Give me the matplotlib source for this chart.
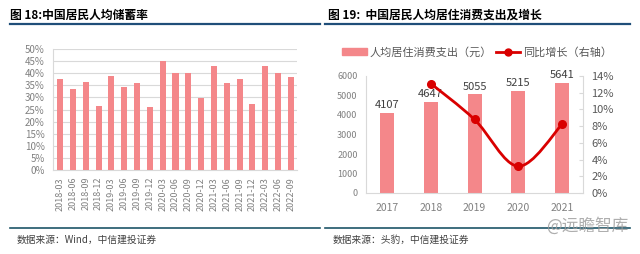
import matplotlib
matplotlib.use("Agg")
import matplotlib.pyplot as plt
import numpy as np
from matplotlib.path import Path
from matplotlib.patches import PathPatch
from matplotlib.lines import Line2D
from matplotlib.ticker import FuncFormatter

plt.rcParams['font.family'] = ['Noto Sans CJK SC', 'DejaVu Sans']

# left chart: savings rate by quarter
quarters = ['2018-03', '2018-06', '2018-09', '2018-12', '2019-03', '2019-06', '2019-09',
            '2019-12', '2020-03', '2020-06', '2020-09', '2020-12', '2021-03', '2021-06',
            '2021-09', '2021-12', '2022-03', '2022-06', '2022-09']
savings_rate = [37.6, 33.4, 36.5, 26.5, 38.7, 34.3, 35.9, 26.2, 44.9, 40.2,
                39.9, 29.7, 43.1, 35.9, 37.4, 27.3, 43.0, 39.9, 38.5]

# right chart: housing spending per capita and yoy growth
years = ['2017', '2018', '2019', '2020', '2021']
housing_spend = [4107, 4647, 5055, 5215, 5641]
growth_years = [1, 2, 3, 4]
growth_pct = [13.1, 8.8, 3.2, 8.2]

bar_c = '#F4878A'
line_c = '#D90000'
tick_c = '#808080'
navy = '#1F4E79'

fig = plt.figure(figsize=(6.4, 2.54), dpi=100)
W, H = 640.0, 254.0

def px_axes(x0, y0, x1, y1):
    return fig.add_axes([x0 / W, 1 - y1 / H, (x1 - x0) / W, (y1 - y0) / H])

# titles and rules
fig.text(10 / W, 1 - 15 / H, '图 18:中国居民人均储蓄率', fontsize=8.5, fontweight='bold',
         va='center', ha='left', color='black')
fig.text(328 / W, 1 - 15 / H, '图 19:  中国居民人均居住消费支出及增长', fontsize=8.5,
         fontweight='bold', va='center', ha='left', color='black')
for xa, xb in [(10, 320), (325, 630)]:
    fig.add_artist(Line2D([xa / W, xb / W], [1 - 24 / H] * 2, color=navy, lw=1.6))
    fig.add_artist(Line2D([xa / W, xb / W], [1 - 228 / H] * 2, color='#1E5568', lw=1.2))
fig.text(17 / W, 1 - 240 / H, '数据来源：Wind，中信建投证券', fontsize=7, style='italic',
         va='center', ha='left', color='#404040')
fig.text(333 / W, 1 - 240 / H, '数据来源：头豹，中信建投证券', fontsize=7, style='italic',
         va='center', ha='left', color='#404040')
fig.text(628 / W, 1 - 226 / H, '@远瞻智库', fontsize=12, va='center', ha='right',
         color='#9a9a9a', alpha=0.8)

# left chart
ax1 = px_axes(53, 49, 297, 170)
x1 = np.arange(len(quarters))
ax1.bar(x1, savings_rate, width=0.47, color=bar_c, zorder=3)
ax1.set_xlim(-0.55, 18.47)
ax1.set_ylim(0, 50)
ax1.set_yticks(np.arange(0, 51, 5))
ax1.yaxis.set_major_formatter(FuncFormatter(lambda v, p: f'{v:.0f}%'))
ax1.set_xticks(x1)
ax1.set_xticklabels(quarters, rotation=90)
ax1.grid(axis='y', color='#D9D9D9', lw=0.8, zorder=0)
ax1.tick_params(axis='y', length=0, labelsize=7, colors=tick_c, pad=6)
ax1.tick_params(axis='x', length=0, labelsize=6.5, colors=tick_c, pad=5)
for s in ['top', 'right']:
    ax1.spines[s].set_visible(False)
for s in ['left', 'bottom']:
    ax1.spines[s].set_color('#D9D9D9')

# right chart
ax2 = px_axes(366, 76, 583, 193)
x2 = np.arange(len(years))
ax2.bar(x2, housing_spend, width=0.32, color=bar_c, zorder=2)
for xi, v in zip(x2, housing_spend):
    ax2.text(xi, v + 150, str(v), ha='center', va='bottom', fontsize=8, color='#404040')
ax2.set_xlim(-0.48, 4.48)
ax2.set_ylim(0, 6000)
ax2.set_yticks(np.arange(0, 6001, 1000))
ax2.set_xticks(x2)
ax2.set_xticklabels(years)
ax2.tick_params(axis='y', length=0, labelsize=6.5, colors=tick_c, pad=6)
ax2.tick_params(axis='x', length=0, labelsize=7.5, colors=tick_c, pad=7)
for s in ['top', 'right']:
    ax2.spines[s].set_visible(False)
for s in ['left', 'bottom']:
    ax2.spines[s].set_color('#D9D9D9')

ax3 = ax2.twinx()
ax3.set_ylim(0, 14)
ax3.set_yticks(np.arange(0, 15, 2))
ax3.yaxis.set_major_formatter(FuncFormatter(lambda v, p: f'{v:.0f}%'))
ax3.tick_params(axis='y', direction='in', length=3, color='#D9D9D9', labelsize=8,
                labelcolor='#595959', pad=6)
for s in ['top', 'left', 'bottom']:
    ax3.spines[s].set_visible(False)
ax3.spines['right'].set_color('#D9D9D9')

# smooth line through the growth points (Catmull-Rom as bezier)
pts = np.column_stack([growth_years, growth_pct]).astype(float)
verts = [tuple(pts[0])]
codes = [Path.MOVETO]
n = len(pts)
for i in range(n - 1):
    p0 = pts[i - 1] if i > 0 else pts[i]
    p1, p2 = pts[i], pts[i + 1]
    p3 = pts[i + 2] if i + 2 < n else pts[i + 1]
    c1 = p1 + (p2 - p0) / 6
    c2 = p2 - (p3 - p1) / 6
    verts += [tuple(c1), tuple(c2), tuple(p2)]
    codes += [Path.CURVE4] * 3
ax3.add_patch(PathPatch(Path(verts, codes), facecolor='none', edgecolor=line_c, lw=2.0,
                        zorder=3))
ax3.plot(growth_years, growth_pct, 'o', color=line_c, ms=5.5, zorder=4)

handles = [plt.Rectangle((0, 0), 1, 1, color=bar_c),
           Line2D([0], [0], color=line_c, lw=2.0, marker='o', ms=5)]
fig.legend(handles, ['人均居住消费支出（元）', '同比增长（右轴）'], loc='center',
           bbox_to_anchor=(477 / W, 1 - 52 / H), ncol=2, frameon=False, fontsize=8,
           labelcolor='#595959', handlelength=2.2, handleheight=0.6, columnspacing=0.4,
           handletextpad=0.2)

fig.savefig('out.png', dpi=100)
